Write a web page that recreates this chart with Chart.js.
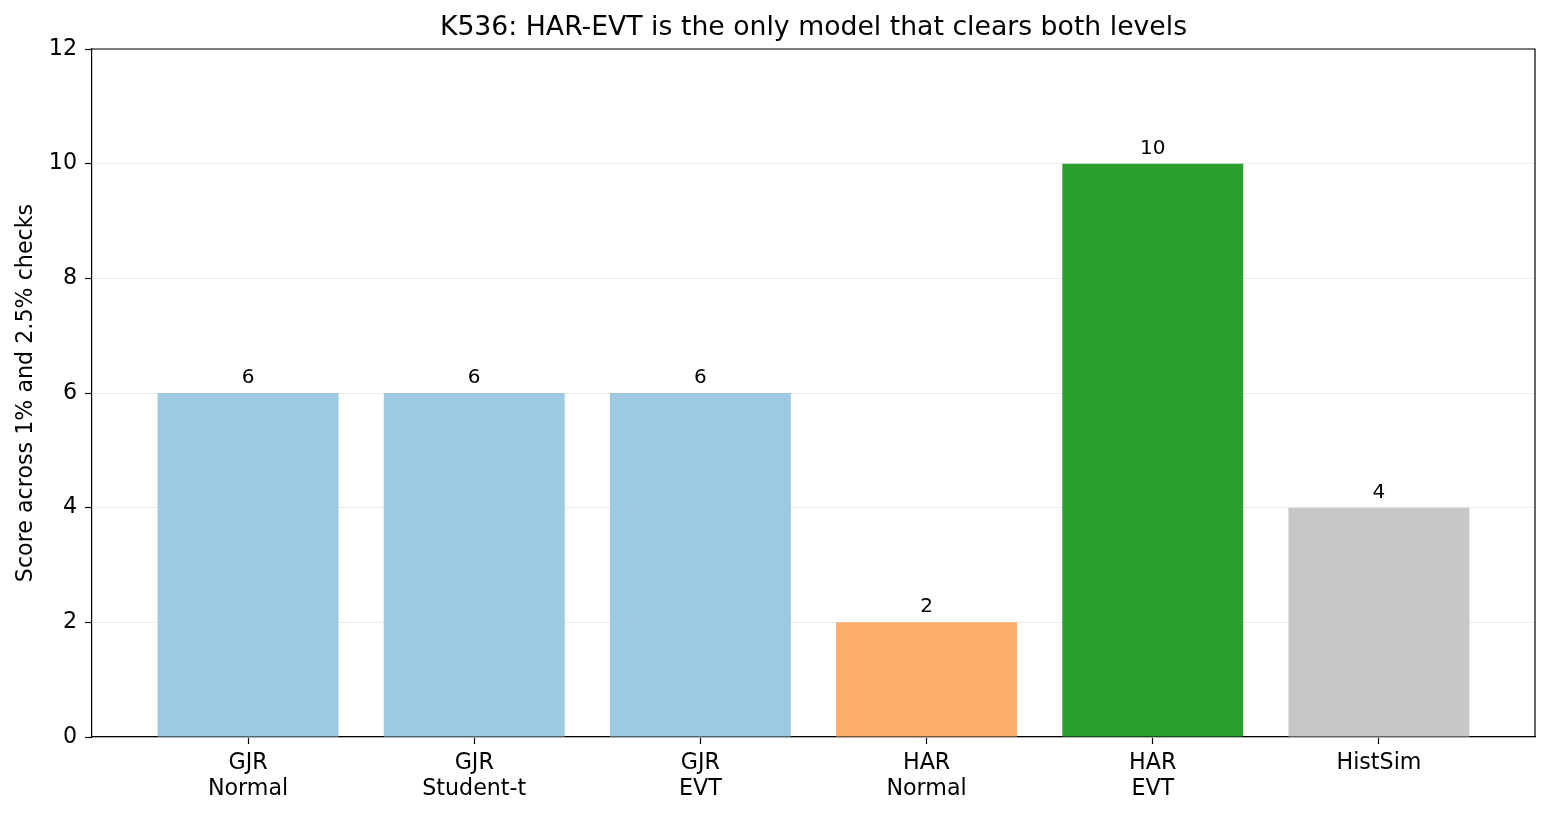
<!DOCTYPE html>
<html>
<head>
<meta charset="utf-8">
<script src="https://cdn.jsdelivr.net/npm/chart.js@4/dist/chart.umd.min.js"></script>
<style>
    body { margin: 0; background: #fff; }
    #chart { display: block; }
</style>
</head>
<body>
<canvas id="chart" width="1552" height="818"></canvas>
<script>
// ===================================
// Data
// ===================================
const chartTitle = 'K536: HAR-EVT is the only model that clears both levels';
const models = [['GJR', 'Normal'], ['GJR', 'Student-t'], ['GJR', 'EVT'], ['HAR', 'Normal'], ['HAR', 'EVT'], ['HistSim']];
const scores = [6, 6, 6, 2, 10, 4];
const barColors = ['#9ecae1', '#9ecae1', '#9ecae1', '#fdae6b', '#2ca02c', '#c7c7c7'];
const yTicks = [0, 2, 4, 6, 8, 10, 12];

const FONT = 'DejaVu Sans';

// Value labels above each bar
const valueLabels = {
    id: 'valueLabels',
    afterDatasetsDraw(chart) {
        const ctx = chart.ctx;
        const meta = chart.getDatasetMeta(0);
        ctx.save();
        ctx.font = '20px "' + FONT + '"';
        ctx.fillStyle = '#000';
        ctx.textAlign = 'center';
        ctx.textBaseline = 'alphabetic';
        meta.data.forEach((bar, i) => {
            ctx.fillText(String(scores[i]), bar.x, bar.y - 10);
        });
        ctx.restore();
    }
};

// Top/right spines and a title centred over the plot area
const frameBox = {
    id: 'frameBox',
    afterDraw(chart) {
        const { ctx, chartArea: a } = chart;
        ctx.save();
        ctx.strokeStyle = '#000';
        ctx.lineWidth = 1.2;
        ctx.beginPath();
        ctx.moveTo(a.left, a.top);
        ctx.lineTo(a.right, a.top);
        ctx.lineTo(a.right, a.bottom);
        ctx.stroke();

        ctx.fillStyle = '#000';
        ctx.font = '26.7px "' + FONT + '"';
        ctx.textAlign = 'center';
        ctx.textBaseline = 'alphabetic';
        ctx.fillText(chartTitle, (a.left + a.right) / 2, 35);
        ctx.restore();
    }
};

function loadChart() {
    const ctx = document.getElementById('chart');

    new Chart(ctx, {
        type: 'bar',
        data: {
            datasets: [{
                data: scores.map((s, i) => ({ x: i, y: s })),
                backgroundColor: barColors,
                borderWidth: 0,
                categoryPercentage: 1,
                barPercentage: 0.8
            }]
        },
        options: {
            responsive: false,
            animation: false,
            layout: { padding: { left: 0, right: 17, top: 49, bottom: 0 } },
            plugins: {
                legend: { display: false },
                tooltip: { enabled: false },
                title: { display: false }
            },
            scales: {
                x: {
                    type: 'linear',
                    offset: false,
                    min: -0.69,
                    max: 5.69,
                    afterBuildTicks: (scale) => {
                        scale.ticks = models.map((_, i) => ({ value: i }));
                    },
                    afterFit: (scale) => { scale.height = 81; },
                    ticks: {
                        color: '#000',
                        font: { family: FONT, size: 22.2, lineHeight: 1.17 },
                        padding: 6,
                        maxRotation: 0,
                        autoSkip: false,
                        callback: (value) => models[value]
                    },
                    grid: {
                        offset: false,
                        drawOnChartArea: false,
                        drawTicks: true,
                        tickLength: 7,
                        tickColor: '#000',
                        tickWidth: 1.2
                    },
                    border: { display: true, color: '#000', width: 1.2 }
                },
                y: {
                    min: 0,
                    max: 12,
                    afterBuildTicks: (scale) => {
                        scale.ticks = yTicks.map(v => ({ value: v }));
                    },
                    afterFit: (scale) => { scale.width = 92; },
                    ticks: {
                        color: '#000',
                        font: { family: FONT, size: 22.2 },
                        padding: 8
                    },
                    grid: {
                        color: '#ebebeb',
                        lineWidth: 1,
                        drawTicks: true,
                        tickLength: 7,
                        tickColor: '#000',
                        tickWidth: 1.2
                    },
                    border: { display: true, color: '#000', width: 1.2 },
                    title: {
                        display: true,
                        text: 'Score across 1% and 2.5% checks',
                        color: '#000',
                        font: { family: FONT, size: 22.2 },
                        padding: { top: 12.5, bottom: 0 }
                    }
                }
            }
        },
        plugins: [valueLabels, frameBox]
    });
}

loadChart();
</script>
</body>
</html>
